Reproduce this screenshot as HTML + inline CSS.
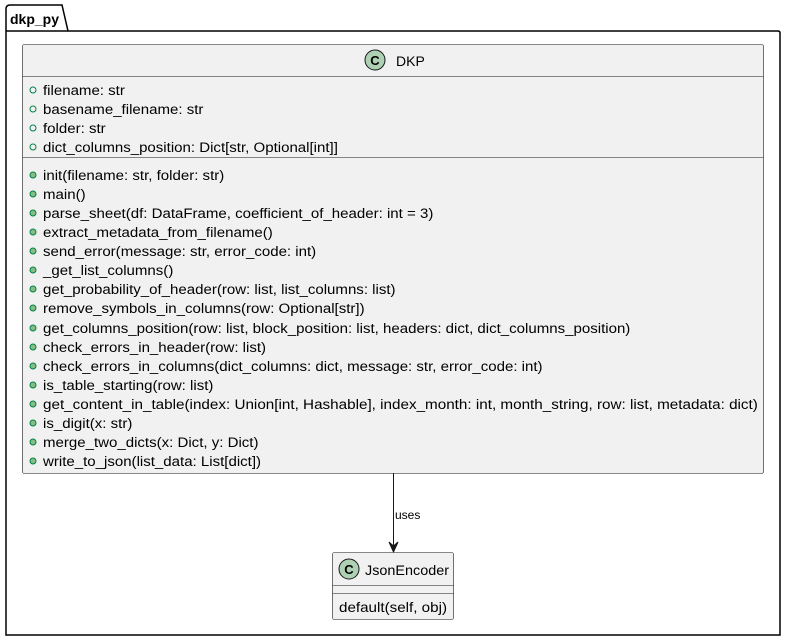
<!DOCTYPE html>
<html><head><style>body{margin:0;background:#fff}svg{display:block}text{font-family:"Liberation Sans","DejaVu Sans",sans-serif;fill:#000}</style></head><body>
<svg width="786" height="641" viewBox="0 0 786 641" xmlns="http://www.w3.org/2000/svg">
<path d="M6,31 L6,9 Q6,5 10,5 L62,5 L68,31 L778,31 Q780,31 780,33 L780,635 L6,635 Z" fill="#fff" stroke="#000" stroke-width="1.5"/>
<line x1="6" y1="31" x2="68" y2="31" stroke="#000" stroke-width="1.5"/>
<text x="10" y="24" font-size="14" font-weight="bold">dkp_py</text>
<rect x="22.5" y="44.5" width="741" height="429" rx="2" fill="#f1f1f1" stroke="#181818" stroke-width="0.6"/>
<circle cx="375" cy="60" r="10" fill="#ADD1B2" stroke="#181818" stroke-width="1"/>
<text x="375" y="65" font-size="13" font-weight="bold" text-anchor="middle">C</text>
<text x="396" y="66" font-size="14">DKP</text>
<line x1="22.5" y1="76.5" x2="763.5" y2="76.5" stroke="#181818" stroke-width="0.6"/>
<line x1="22.5" y1="157.5" x2="763.5" y2="157.5" stroke="#181818" stroke-width="0.6"/>
<g fill="none" stroke="#038048" stroke-width="1">
<circle cx="33" cy="90" r="3"/><circle cx="33" cy="109" r="3"/><circle cx="33" cy="128" r="3"/><circle cx="33" cy="147" r="3"/>
</g>
<g font-size="14" transform="translate(43,0) scale(1.075,1) translate(-43,0)">
<text x="43" y="95">filename: str</text>
<text x="43" y="114">basename_filename: str</text>
<text x="43" y="133">folder: str</text>
<text x="43" y="152">dict_columns_position: Dict[str, Optional[int]]</text>
</g>
<g fill="#84BE84" stroke="#038048" stroke-width="1">
<circle cx="33" cy="175" r="3"/><circle cx="33" cy="194" r="3"/><circle cx="33" cy="213" r="3"/><circle cx="33" cy="232" r="3"/><circle cx="33" cy="251" r="3"/><circle cx="33" cy="270" r="3"/><circle cx="33" cy="289" r="3"/><circle cx="33" cy="308" r="3"/><circle cx="33" cy="328" r="3"/><circle cx="33" cy="347" r="3"/><circle cx="33" cy="366" r="3"/><circle cx="33" cy="385" r="3"/><circle cx="33" cy="404" r="3"/><circle cx="33" cy="423" r="3"/><circle cx="33" cy="442" r="3"/><circle cx="33" cy="461" r="3"/>
</g>
<g font-size="14" transform="translate(43,0) scale(1.075,1) translate(-43,0)">
<text x="43" y="180">init(filename: str, folder: str)</text>
<text x="43" y="199">main()</text>
<text x="43" y="218">parse_sheet(df: DataFrame, coefficient_of_header: int = 3)</text>
<text x="43" y="237">extract_metadata_from_filename()</text>
<text x="43" y="256">send_error(message: str, error_code: int)</text>
<text x="43" y="275">_get_list_columns()</text>
<text x="43" y="294">get_probability_of_header(row: list, list_columns: list)</text>
<text x="43" y="313">remove_symbols_in_columns(row: Optional[str])</text>
<text x="43" y="333">get_columns_position(row: list, block_position: list, headers: dict, dict_columns_position)</text>
<text x="43" y="352">check_errors_in_header(row: list)</text>
<text x="43" y="371">check_errors_in_columns(dict_columns: dict, message: str, error_code: int)</text>
<text x="43" y="390">is_table_starting(row: list)</text>
<text x="43" y="409" textLength="665" lengthAdjust="spacingAndGlyphs">get_content_in_table(index: Union[int, Hashable], index_month: int, month_string, row: list, metadata: dict)</text>
<text x="43" y="428">is_digit(x: str)</text>
<text x="43" y="447">merge_two_dicts(x: Dict, y: Dict)</text>
<text x="43" y="466">write_to_json(list_data: List[dict])</text>
</g>
<line x1="393.5" y1="473" x2="393.5" y2="550" stroke="#181818" stroke-width="1"/>
<path d="M389,542 L393.5,552 L398,542 L393.5,546 Z" fill="#181818" stroke="#181818"/>
<text x="395" y="519" font-size="12">uses</text>
<rect x="332.5" y="552.5" width="121" height="67" rx="2" fill="#f1f1f1" stroke="#181818" stroke-width="0.6"/>
<circle cx="349" cy="569" r="10" fill="#ADD1B2" stroke="#181818" stroke-width="1"/>
<text x="349" y="574" font-size="13" font-weight="bold" text-anchor="middle">C</text>
<text x="365" y="575" font-size="14" textLength="84" lengthAdjust="spacingAndGlyphs">JsonEncoder</text>
<line x1="332.5" y1="585.5" x2="453.5" y2="585.5" stroke="#181818" stroke-width="0.6"/>
<line x1="332.5" y1="593.5" x2="453.5" y2="593.5" stroke="#181818" stroke-width="0.6"/>
<text x="339" y="612" font-size="14" textLength="108" lengthAdjust="spacingAndGlyphs">default(self, obj)</text>
</svg>
</body></html>
